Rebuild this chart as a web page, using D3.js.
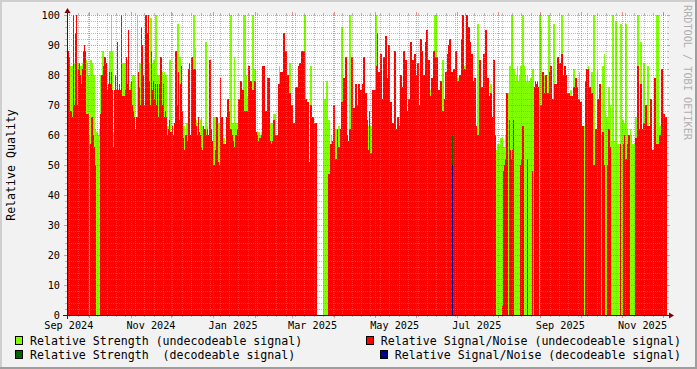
<!DOCTYPE html>
<html>
<head>
<meta charset="utf-8">
<script src="https://cdn.jsdelivr.net/npm/d3@7"></script>
<style>
  body { margin: 0; background: #f2f2f2; }
  svg { display: block; }
  text { font-family: "DejaVu Sans Mono", monospace; }
</style>
</head>
<body>
<script>
// one bin per pixel column, rrdtool style
var binStart = Date.UTC(2024, 8, 14, 15, 56);
var binSec = 64156;

// Relative Signal/Noise (undecodeable signal) - red
var snUndec = [
  88,88,86,68,68,66,100,70,94,100,
  70,82,84,80,77,82,88,90,88,67,
  67,67,null,57,66,66,60,56,50,null,
  null,null,null,67,80,80,83,86,86,84,
  75,77,81,77,81,75,56,75,80,75,
  91,75,77,75,100,73,73,73,75,86,
  77,95,75,75,78,70,68,66,62,66,
  66,81,76,70,96,90,80,70,100,100,
  94,100,78,70,88,75,78,72,77,70,
  77,66,77,86,86,70,77,66,68,66,
  60,62,65,61,61,63,60,64,88,88,
  70,81,65,77,83,68,59,55,60,60,
  58,82,84,60,86,86,82,82,82,63,
  60,66,61,60,56,55,63,62,62,60,
  62,60,85,85,62,58,50,50,55,66,
  66,51,50,79,66,66,57,57,57,66,
  72,72,68,62,62,60,58,56,60,60,
  62,72,72,78,78,75,75,68,68,68,
  68,83,83,78,78,75,75,78,78,61,
  60,58,59,59,60,83,83,83,68,68,
  79,79,79,58,57,58,65,65,60,60,
  60,77,77,81,81,81,94,94,88,88,
  80,80,74,74,70,70,64,64,76,76,
  76,83,84,84,88,88,88,88,72,72,
  71,71,51,70,70,66,66,64,64,64,
  null,null,null,null,null,null,null,null,null,null,
  null,47,47,57,57,58,70,70,52,52,
  62,56,56,62,71,71,79,79,86,86,
  60,58,62,62,86,86,69,69,77,77,
  70,77,77,75,75,77,86,86,74,74,
  65,55,68,54,54,75,75,75,75,83,
  94,81,81,87,87,72,86,86,93,93,
  79,90,90,71,71,64,64,88,88,62,
  66,66,63,80,80,76,88,88,85,85,
  68,72,72,91,91,85,85,87,87,80,
  84,84,70,92,92,88,80,80,91,95,
  95,85,85,73,79,79,88,88,86,86,
  86,75,75,78,78,68,68,72,81,81,
  87,90,92,92,81,81,82,82,88,88,
  78,78,80,80,92,100,100,82,82,100,
  100,96,96,91,87,87,78,79,79,63,
  60,60,85,85,76,76,87,87,95,95,
  79,79,73,74,74,66,85,85,60,null,
  null,null,null,null,null,3,48,50,52,74,
  74,null,65,55,52,55,65,null,null,null,
  null,null,null,50,52,63,63,null,null,null,
  52,null,null,null,null,48,null,76,78,77,
  78,76,null,70,70,81,81,74,80,80,
  74,74,81,83,83,72,72,77,77,77,
  86,86,84,84,87,87,80,83,83,80,
  74,74,74,73,73,73,76,76,79,79,
  76,72,72,71,71,63,63,null,78,82,
  82,82,76,76,74,74,50,50,62,62,
  72,72,77,77,null,61,61,50,null,null,
  50,62,62,56,null,null,null,null,null,null,
  null,null,null,57,null,null,57,60,52,52,
  57,60,60,null,null,null,null,null,59,59,
  83,83,62,77,77,62,64,64,70,70,
  63,63,63,72,72,55,55,79,79,57,
  57,57,60,60,82,82,67,67,66,66
];

// Relative Strength (undecodeable signal) - green
var strUndec = [
  null,null,83,83,83,83,null,84,null,null,
  84,84,80,83,83,84,null,null,null,85,
  84,80,60,85,85,84,80,80,62,61,
  61,60,62,80,80,88,88,null,null,null,
  null,null,88,88,100,88,61,null,null,null,
  null,null,null,null,null,84,84,84,84,85,
  85,null,null,77,null,80,80,80,null,null,
  100,null,84,84,null,null,null,null,null,null,
  null,null,84,99,99,84,85,85,100,100,
  80,80,80,null,null,81,80,81,80,80,
  63,63,85,85,60,null,null,null,null,null,
  97,97,86,86,null,null,63,63,null,64,
  64,null,null,null,null,null,100,100,89,65,
  64,64,null,65,66,63,null,null,91,91,
  63,null,null,null,55,55,66,66,66,59,
  59,64,64,null,null,null,59,59,null,null,
  null,null,64,100,100,64,64,86,64,64,
  64,null,null,null,null,null,100,100,100,80,
  73,83,83,null,null,100,100,82,82,60,
  61,61,61,60,61,null,null,null,63,63,
  60,null,null,64,64,64,67,67,67,null,
  null,null,83,null,null,null,null,null,null,null,
  null,null,84,84,null,null,null,null,null,null,
  null,null,null,null,null,null,null,100,100,null,
  null,null,null,83,83,null,null,null,null,null,
  null,null,null,null,null,null,78,72,72,78,
  78,65,65,null,60,null,null,null,62,62,
  null,63,63,null,96,96,null,null,null,null,
  null,null,100,100,null,null,null,null,null,null,
  null,null,null,null,null,null,null,null,null,null,
  null,63,null,63,63,63,null,null,100,100,
  null,null,null,null,null,null,null,null,null,null,
  null,null,null,null,null,63,null,null,null,null,
  null,null,null,null,null,null,null,null,null,null,
  null,null,null,null,null,null,null,78,78,74,
  null,null,null,null,null,null,null,null,null,null,
  null,null,null,75,null,null,null,100,100,100,
  null,null,null,null,null,85,85,57,null,null,
  null,null,null,null,null,null,null,null,null,null,
  79,79,72,72,null,100,100,83,83,null,
  null,null,null,null,84,84,72,72,72,null,
  97,97,84,null,null,null,null,null,null,null,
  null,null,null,77,77,null,null,null,58,55,
  57,57,57,59,59,59,56,56,60,60,
  60,74,83,83,100,100,82,82,78,80,
  83,78,80,83,83,100,100,83,80,78,
  80,78,78,79,79,82,82,70,null,null,
  null,null,100,100,96,null,null,80,null,null,
  null,100,100,null,null,null,97,97,null,null,
  null,null,null,null,100,100,null,80,80,68,
  null,null,null,75,75,null,82,82,null,null,
  null,null,81,null,null,null,null,63,null,null,
  null,83,null,null,81,81,100,100,null,null,
  82,null,null,null,60,83,83,87,68,66,
  66,76,76,70,58,100,100,58,98,98,
  57,57,57,97,97,65,65,64,97,97,
  62,null,null,62,60,57,57,57,66,66,
  100,100,null,91,91,null,84,84,null,null,
  83,83,null,68,null,null,null,null,null,100,
  100,100,63,63,null,null,null,null,null,null
];

// decodeable series: [bin index, value]
var strDec = [[385, 60]];
var snDec = [[385, 50]];

var yMajor = d3.range(0, 101, 10);
var yMinor = d3.range(0, 101, 2).filter(function(v) { return v % 10 != 0; });

var legendLabels = [
  "Relative Strength (undecodeable signal)",
  "Relative Signal/Noise (undecodeable signal)",
  "Relative Strength  (decodeable signal)",
  "Relative Signal/Noise (decodeable signal)"
];
var legendColors = ["#7fff00", "#ff0000", "#006400", "#000090"];

var colors = {
  back: "#f2f2f2", canvas: "#ffffff",
  shadeA: "#cfcfcf", shadeB: "#9e9e9e",
  grid: "rgba(143,143,143,0.6)", mgrid: "rgba(222,79,79,0.6)",
  axis: "#202020", arrow: "#800000", font: "#000000"
};

var W = 697, H = 369;
var x0 = 67, y0 = 315, plotW = 600, plotH = 300;

var svg = d3.select("body").append("svg")
    .attr("width", W)
    .attr("height", H);

svg.append("rect").attr("width", W).attr("height", H).attr("fill", colors.back);
// 3d border
svg.append("rect").attr("x", 0).attr("y", 0).attr("width", W).attr("height", 2).attr("fill", colors.shadeA);
svg.append("rect").attr("x", 0).attr("y", 0).attr("width", 2).attr("height", H).attr("fill", colors.shadeA);
svg.append("rect").attr("x", 0).attr("y", H - 2).attr("width", W).attr("height", 2).attr("fill", colors.shadeB);
svg.append("rect").attr("x", W - 2).attr("y", 0).attr("width", 2).attr("height", H).attr("fill", colors.shadeB);

svg.append("rect")
    .attr("x", x0).attr("y", y0 - plotH)
    .attr("width", plotW).attr("height", plotH)
    .attr("fill", colors.canvas);

function binTime(i) {
    return new Date(binStart + i * binSec * 1000);
}

var n = snUndec.length;
var x = d3.scaleUtc().domain([binTime(0), binTime(n)]).range([x0, x0 + plotW]);
var y = d3.scaleLinear().domain([0, 100]).range([y0, y0 - plotH]);

// draw one area series as 1px columns
function drawSeries(pairs, color) {
    svg.append("g")
        .attr("shape-rendering", "crispEdges")
        .selectAll("rect")
        .data(pairs.filter(function(d) { return d[1] != null; }))
        .enter().append("rect")
        .attr("x", function(d) { return Math.round(x(binTime(d[0]))); })
        .attr("width", function(d) {
            return Math.round(x(binTime(d[0] + 1))) - Math.round(x(binTime(d[0])));
        })
        .attr("y", function(d) { return Math.round(y(d[1])); })
        .attr("height", function(d) { return y0 - Math.round(y(d[1])); })
        .attr("fill", color);
}

function indexed(arr) {
    return arr.map(function(v, i) { return [i, v]; });
}

drawSeries(indexed(strUndec), legendColors[0]);
drawSeries(indexed(snUndec), legendColors[1]);
drawSeries(strDec, legendColors[2]);
drawSeries(snDec, legendColors[3]);

// **************** Grid ****************
var grid = svg.append("g").attr("shape-rendering", "crispEdges");

yMinor.forEach(function(v) {
    var yy = Math.round(y(v)) + 0.5;
    grid.append("line").attr("x1", x0).attr("x2", x0 + plotW).attr("y1", yy).attr("y2", yy)
        .attr("stroke", colors.grid).attr("stroke-dasharray", "1,1");
    grid.append("line").attr("x1", x0 - 2).attr("x2", x0).attr("y1", yy).attr("y2", yy)
        .attr("stroke", colors.grid);
    grid.append("line").attr("x1", x0 + plotW).attr("x2", x0 + plotW + 2).attr("y1", yy).attr("y2", yy)
        .attr("stroke", colors.grid);
});

var tStart = binTime(0), tEnd = binTime(n);
var weeks = d3.utcMonday.range(tStart, tEnd);
var months = d3.utcMonth.range(tStart, tEnd);

weeks.forEach(function(t) {
    var xx = Math.round(x(t)) + 0.5;
    grid.append("line").attr("x1", xx).attr("x2", xx).attr("y1", y0 - plotH).attr("y2", y0)
        .attr("stroke", colors.grid).attr("stroke-dasharray", "1,1");
    grid.append("line").attr("x1", xx).attr("x2", xx).attr("y1", y0).attr("y2", y0 + 2)
        .attr("stroke", colors.grid);
    grid.append("line").attr("x1", xx).attr("x2", xx).attr("y1", y0 - plotH - 2).attr("y2", y0 - plotH)
        .attr("stroke", colors.grid);
});

yMajor.forEach(function(v) {
    var yy = Math.round(y(v)) + 0.5;
    grid.append("line").attr("x1", x0).attr("x2", x0 + plotW).attr("y1", yy).attr("y2", yy)
        .attr("stroke", colors.mgrid).attr("stroke-dasharray", "1,1");
    grid.append("line").attr("x1", x0 - 3).attr("x2", x0).attr("y1", yy).attr("y2", yy)
        .attr("stroke", colors.mgrid);
    grid.append("line").attr("x1", x0 + plotW).attr("x2", x0 + plotW + 3).attr("y1", yy).attr("y2", yy)
        .attr("stroke", colors.mgrid);
});

months.forEach(function(t) {
    var xx = Math.round(x(t)) + 0.5;
    grid.append("line").attr("x1", xx).attr("x2", xx).attr("y1", y0 - plotH).attr("y2", y0)
        .attr("stroke", colors.mgrid).attr("stroke-dasharray", "1,1");
    grid.append("line").attr("x1", xx).attr("x2", xx).attr("y1", y0).attr("y2", y0 + 3)
        .attr("stroke", colors.mgrid);
    grid.append("line").attr("x1", xx).attr("x2", xx).attr("y1", y0 - plotH - 3).attr("y2", y0 - plotH)
        .attr("stroke", colors.mgrid);
});

// **************** Axes ****************
var axis = svg.append("g").attr("shape-rendering", "crispEdges");
axis.append("line").attr("x1", x0 - 4).attr("x2", x0 + plotW + 3)
    .attr("y1", y0 + 0.5).attr("y2", y0 + 0.5).attr("stroke", colors.axis);
axis.append("line").attr("x1", x0 + 0.5).attr("x2", x0 + 0.5)
    .attr("y1", y0 + 4).attr("y2", y0 - plotH - 3).attr("stroke", colors.axis);

svg.append("path")
    .attr("d", "M" + (x0 + plotW + 2) + "," + (y0 - 2.5) + "L" + (x0 + plotW + 2) + "," + (y0 + 3.5) +
               "L" + (x0 + plotW + 7) + "," + (y0 + 0.5) + "Z")
    .attr("fill", colors.arrow);
svg.append("path")
    .attr("d", "M" + (x0 - 2.5) + "," + (y0 - plotH - 2) + "L" + (x0 + 3.5) + "," + (y0 - plotH - 2) +
               "L" + (x0 + 0.5) + "," + (y0 - plotH - 7) + "Z")
    .attr("fill", colors.arrow);

// y labels
svg.append("g").selectAll("text")
    .data(yMajor)
    .enter().append("text")
    .attr("x", x0 - 7)
    .attr("y", function(d) { return Math.round(y(d)) + 3.5; })
    .attr("text-anchor", "end")
    .attr("font-size", "10.2px")
    .attr("fill", colors.font)
    .text(function(d) { return d; });

// x labels, centred in the month like rrdtool does
var labelMonths = d3.utcMonth.every(2).range(d3.utcMonth.floor(tStart), tEnd);
var fmt = d3.utcFormat("%b %Y");
svg.append("g").selectAll("text")
    .data(labelMonths.filter(function(m) {
        var xx = x(d3.utcDay.offset(m, 15));
        return xx >= x0 && xx <= x0 + plotW;
    }))
    .enter().append("text")
    .attr("x", function(d) { return x(d3.utcDay.offset(d, 15)); })
    .attr("y", 328.5)
    .attr("text-anchor", "middle")
    .attr("font-size", "10.2px")
    .attr("fill", colors.font)
    .text(function(d) { return fmt(d); });

// axis title
svg.append("text")
    .attr("transform", "translate(15," + (y0 - plotH / 2) + ") rotate(-90)")
    .attr("text-anchor", "middle")
    .attr("font-size", "11.6px")
    .attr("fill", colors.font)
    .text("Relative Quality");

// credit
svg.append("text")
    .attr("transform", "translate(684,5) rotate(90)")
    .attr("font-size", "10.2px")
    .attr("fill", "#b0b0b0")
    .text("RRDTOOL / TOBI OETIKER");

// **************** Legend ****************
var legendRows = [345, 359];
legendLabels.forEach(function(label, i) {
    var row = Math.floor(i / 2), col = i % 2;
    var t = svg.append("text")
        .attr("y", legendRows[row])
        .attr("font-size", "11.6px")
        .attr("fill", colors.font)
        .style("white-space", "pre")
        .text(label);
    var tx;
    if (col == 0) {
        tx = 30;
        t.attr("x", tx);
    } else {
        tx = 681 - t.node().getComputedTextLength();
        t.attr("x", tx);
    }
    svg.append("rect")
        .attr("x", Math.round(tx) - 14.5)
        .attr("y", legendRows[row] - 8.5)
        .attr("width", 7)
        .attr("height", 8)
        .attr("fill", legendColors[i])
        .attr("stroke", "#000")
        .attr("stroke-width", 1);
});
</script>
</body>
</html>
